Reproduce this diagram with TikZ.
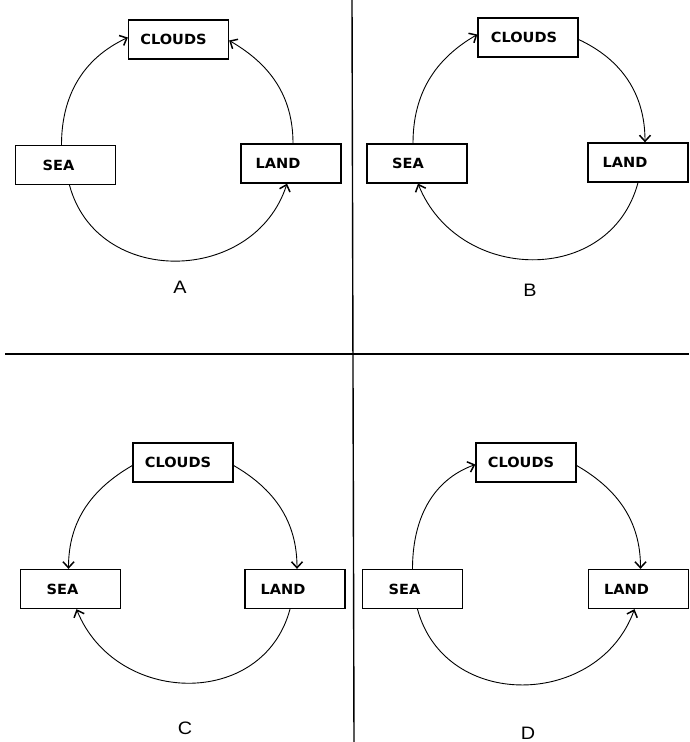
\documentclass[tikz,border=0pt]{standalone}
\usepackage{fontspec}
\newfontfamily\boxfont{DejaVu Sans}[FakeStretch=1.04]
\newfontfamily\tagfont{Liberation Sans}[FakeStretch=1.1]
\usetikzlibrary{arrows.meta}
\begin{document}
\begin{tikzpicture}[x=1pt,y=1pt,line width=.9pt,>={Straight Barb[length=6pt,width=11pt,line width=1.5pt]},
	box/.style={draw,line width=1.3pt,minimum width=100pt,minimum height=39pt,inner sep=0pt,font=\boxfont\bfseries\fontsize{14}{16}\selectfont},
	tag/.style={font=\tagfont\fontsize{18}{20}\selectfont}]
	\useasboundingbox (0,0) rectangle (689,-742);
	% dividers
	\draw[line width=1.4pt](352,0)--(354,-742);
	\draw[line width=1.4pt](5,-354)--(689,-354);
	% A
	\node[box](cloudsA)at(178.5,-39.5){CLOUDS\kern10pt};
	\node[box](seaA)at(65.5,-165){SEA\kern14pt};
	\node[box](landA)at(291,-163.5){LAND\kern26pt};
	\node[tag](tagA)at(180,-287){A};
	\draw[->]([xshift=-4pt]seaA.north)to[out=90,in=205]([yshift=2pt]cloudsA.west);
	\draw[->]([xshift=2pt]landA.north)to[out=90,in=-30]([yshift=-1pt]cloudsA.east);
	\draw[->]([xshift=4pt]seaA.south)to[out=-75,in=-108,looseness=1.25]([xshift=-4pt]landA.south);
	% B
	\node[box](cloudsB)at(528,-37.5){CLOUDS\kern8pt};
	\node[box](seaB)at(417,-163.5){SEA\kern18pt};
	\node[box](landB)at(638,-162.5){LAND\kern26pt};
	\node[tag](tagB)at(530,-290){B};
	\draw[->]([xshift=-4pt]seaB.north)to[out=90,in=210]([yshift=3pt]cloudsB.west);
	\draw[->]([yshift=-2pt]cloudsB.east)to[out=-25,in=90]([xshift=7pt]landB.north);
	\draw[->]([xshift=0pt]landB.south)to[out=-105,in=-68,looseness=1.25]([xshift=1pt]seaB.south);
	% C
	\node[box](cloudsC)at(183,-462.5){CLOUDS\kern10pt};
	\node[box](seaC)at(70.5,-589){SEA\kern16pt};
	\node[box](landC)at(295,-589){LAND\kern24pt};
	\node[tag](tagC)at(185,-728){C};
	\draw[->]([yshift=-3pt]cloudsC.west)to[out=210,in=90]([xshift=-2pt]seaC.north);
	\draw[->]([yshift=-3pt]cloudsC.east)to[out=-30,in=90]([xshift=2pt]landC.north);
	\draw[->]([xshift=-5pt]landC.south)to[out=-105,in=-68,looseness=1.25]([xshift=6pt]seaC.south);
	% D
	\node[box](cloudsD)at(526,-462.5){CLOUDS\kern10pt};
	\node[box](seaD)at(412.5,-589){SEA\kern16pt};
	\node[box](landD)at(638.5,-589){LAND\kern24pt};
	\node[tag](tagD)at(528,-733){D};
	\draw[->]([xshift=0pt]seaD.north)to[out=90,in=200]([yshift=-2pt]cloudsD.west);
	\draw[->]([yshift=-3pt]cloudsD.east)to[out=-30,in=90]([xshift=2pt]landD.north);
	\draw[->]([xshift=5pt]seaD.south)to[out=-75,in=-110,looseness=1.25]([xshift=-4pt]landD.south);
\end{tikzpicture}
\end{document}
